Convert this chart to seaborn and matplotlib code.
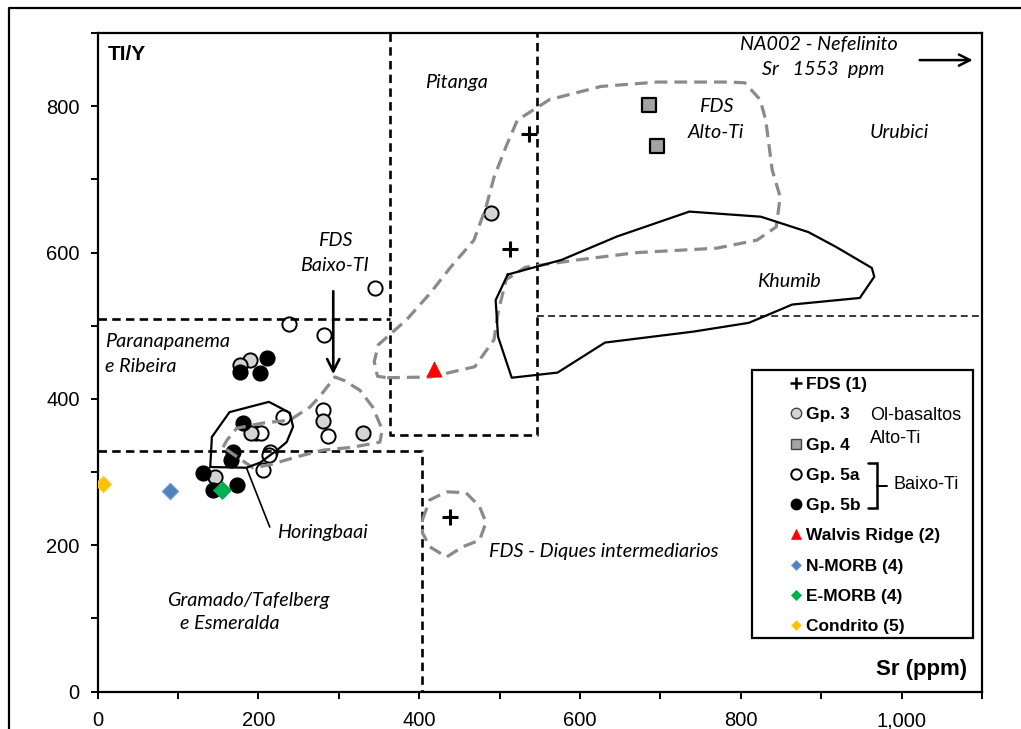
import numpy as np
import matplotlib
matplotlib.use("Agg")
import matplotlib.pyplot as plt
import seaborn as sns
from matplotlib.lines import Line2D
from matplotlib.patches import Rectangle
from matplotlib.ticker import MultipleLocator, FuncFormatter

# ---------------- data (Sr ppm, Ti/Y) ----------------
fds_sr = [537, 513, 438]
fds_tiy = [762, 605, 239]
gp3_sr = [489, 189, 177, 280, 330, 191, 146]
gp3_tiy = [654, 453, 447, 370, 353, 353, 294]
gp4_sr = [686, 696]
gp4_tiy = [801, 746]
gp5a_sr = [345, 238, 281, 231, 280, 286, 197, 203, 214, 213, 206]
gp5a_tiy = [552, 502, 487, 376, 385, 349, 354, 354, 328, 324, 303]
gp5b_sr = [210, 177, 202, 181, 168, 166, 131, 144, 173]
gp5b_tiy = [456, 437, 435, 367, 328, 317, 299, 276, 283]
walvis_sr, walvis_tiy = [418], [441]
nmorb_sr, nmorb_tiy = [90], [274]
emorb_sr, emorb_tiy = [154], [276]
condrito_sr, condrito_tiy = [6], [284]

# fields (outlines)
alto_ti_sr = [360, 414, 469, 493, 498, 508, 532, 597, 671, 770, 820, 844, 849, 839, 831, 824,
              805, 785, 696, 626, 562, 522, 508, 493, 483, 468, 439, 414, 384, 349, 344, 348]
alto_ti_tiy = [429, 430, 444, 481, 518, 563, 580, 590, 600, 606, 617, 635, 676, 713, 781, 809,
               832, 833, 833, 827, 809, 781, 745, 703, 662, 617, 580, 545, 508, 474, 451, 431]
baixo_ti_sr = [156, 161, 173, 205, 239, 264, 276, 295, 307, 326, 342, 354, 351, 317, 280, 248, 214, 193]
baixo_ti_tiy = [334, 344, 360, 367, 371, 389, 403, 430, 425, 412, 389, 358, 341, 334, 330, 321, 310, 306]
horingbaai_sr = [140, 142, 164, 213, 239, 243, 235, 223, 202, 185]
horingbaai_tiy = [307, 348, 382, 396, 381, 362, 341, 330, 313, 306]
khumib_sr = [510, 577, 646, 736, 825, 884, 918, 963, 966, 948, 864, 810, 741, 631, 572, 515, 498, 495]
khumib_tiy = [570, 590, 622, 656, 649, 628, 608, 579, 567, 538, 529, 504, 492, 477, 436, 429, 485, 535]
diques_sr = [404, 413, 434, 458, 475, 483, 475, 454, 434, 413, 404]
diques_tiy = [235, 262, 273, 272, 253, 231, 207, 198, 184, 198, 217]

# region boundaries
pitanga_sr = [364, 364, 547, 547]
pitanga_tiy = [900, 351, 351, 900]
paranapanema_sr = [0, 364]
paranapanema_tiy = [509, 509]
urubici_sr = [547, 1100]
urubici_tiy = [513, 513]
gramado_sr = [0, 404, 404]
gramado_tiy = [329, 329, 0]

# ---------------- style ----------------
sns.set_theme(style="white")
plt.rcParams['font.family'] = ['Liberation Sans', 'DejaVu Sans']
plt.rcParams['text.color'] = 'black'
plt.rcParams['xtick.color'] = 'black'
plt.rcParams['ytick.color'] = 'black'
plt.rcParams['axes.labelcolor'] = 'black'

fig = plt.figure(figsize=(10.21, 7.29), dpi=100)
ax = fig.add_axes([0.0957, 0.0512, 0.8661, 0.9035])
ax.set_xlim(0, 1100)
ax.set_ylim(0, 900)

for sp in ax.spines.values():
    sp.set_linewidth(1.6)
    sp.set_color('black')

ax.xaxis.set_major_locator(MultipleLocator(200))
ax.xaxis.set_minor_locator(MultipleLocator(100))
ax.yaxis.set_major_locator(MultipleLocator(200))
ax.yaxis.set_minor_locator(MultipleLocator(100))
ax.xaxis.set_major_formatter(FuncFormatter(lambda v, p: f"{v:,.0f}"))
ax.tick_params(which='both', direction='out', length=5, width=1.4, color='black',
               bottom=True, left=True, top=False, right=False)
ax.tick_params(axis='x', which='major', labelsize=14.5, pad=9, labelcolor='black')
ax.tick_params(axis='y', which='major', labelsize=14.5, pad=8, labelcolor='black')

GRAY_FIELD = '#8a8a8a'

def closed(a):
    return list(a) + [a[0]]

# region boundaries (black dashed)
for xs, ys in [(pitanga_sr, pitanga_tiy), (paranapanema_sr, paranapanema_tiy), (gramado_sr, gramado_tiy)]:
    ax.plot(xs, ys, color='black', lw=1.9, ls=(0, (3.2, 2.0)), zorder=5)
ax.plot(urubici_sr, urubici_tiy, color='black', lw=1.1, ls=(0, (4.5, 2.8)), zorder=5)

# fields
ax.plot(closed(alto_ti_sr), closed(alto_ti_tiy), color=GRAY_FIELD, lw=2.3, ls=(0, (4, 2.2)), zorder=5)
ax.plot(closed(baixo_ti_sr), closed(baixo_ti_tiy), color=GRAY_FIELD, lw=2.3, ls=(0, (4, 2.2)), zorder=5)
ax.plot(closed(diques_sr), closed(diques_tiy), color=GRAY_FIELD, lw=2.3, ls=(0, (4, 2.2)), zorder=5)
ax.plot(closed(horingbaai_sr), closed(horingbaai_tiy), color='black', lw=1.6, zorder=5)
ax.plot(closed(khumib_sr), closed(khumib_tiy), color='black', lw=1.6, zorder=5)

# points
sns.scatterplot(x=gp5a_sr, y=gp5a_tiy, ax=ax, marker='o', s=105, color='white', edgecolor='black', linewidth=1.4, zorder=4, legend=False)
sns.scatterplot(x=gp3_sr, y=gp3_tiy, ax=ax, marker='o', s=105, color='#d4d4d4', edgecolor='black', linewidth=1.4, zorder=4, legend=False)
sns.scatterplot(x=gp5b_sr, y=gp5b_tiy, ax=ax, marker='o', s=105, color='black', edgecolor='black', linewidth=1.4, zorder=4, legend=False)
sns.scatterplot(x=gp4_sr, y=gp4_tiy, ax=ax, marker='s', s=115, color='#a3a3a3', edgecolor='black', linewidth=1.6, zorder=4, legend=False)
sns.scatterplot(x=fds_sr, y=fds_tiy, ax=ax, marker='+', s=130, color='black', linewidth=2.2, zorder=6, legend=False)
sns.scatterplot(x=walvis_sr, y=walvis_tiy, ax=ax, marker='^', s=120, color='#ff0000', edgecolor='#ff0000', linewidth=0.5, zorder=6, legend=False)
sns.scatterplot(x=nmorb_sr, y=nmorb_tiy, ax=ax, marker='D', s=70, color='#4f81bd', edgecolor='#7a9fd0', linewidth=0.8, zorder=6, legend=False)
sns.scatterplot(x=emorb_sr, y=emorb_tiy, ax=ax, marker='D', s=85, color='#00b050', edgecolor='#00b050', linewidth=0.5, zorder=6, legend=False)
sns.scatterplot(x=condrito_sr, y=condrito_tiy, ax=ax, marker='D', s=70, color='#ffc000', edgecolor='#ffd050', linewidth=0.8, zorder=6, legend=False)

# annotations
it = dict(family=['Lato', 'DejaVu Sans'], style='italic', fontsize=14.2, color='black', zorder=7)
ax.text(446, 833, 'Pitanga', ha='center', va='center', **it)
ax.text(769, 799, 'FDS', ha='center', va='center', **it)
ax.text(769, 764, 'Alto-Ti', ha='center', va='center', **it)
ax.text(897, 884, 'NA002 - Nefelinito', ha='center', va='center', **it)
ax.text(903, 850, 'Sr   1553  ppm', ha='center', va='center', **it)
ax.text(997, 764, 'Urubici', ha='center', va='center', **it)
ax.text(295, 617, 'FDS', ha='center', va='center', **it)
ax.text(295, 583, 'Baixo-TI', ha='center', va='center', **it)
ax.text(860, 560, 'Khumib', ha='center', va='center', **it)
ax.text(9, 478, 'Paranapanema', ha='left', va='center', **it)
ax.text(9, 444, 'e Ribeira', ha='left', va='center', **it)
ax.text(279, 217, 'Horingbaai', ha='center', va='center', **it)
ax.text(630, 192, 'FDS - Diques intermediarios', ha='center', va='center', **it)
ax.text(187, 125, 'Gramado/Tafelberg', ha='center', va='center', **it)
ax.text(164, 93, 'e Esmeralda', ha='center', va='center', **it)

ax.text(13, 870, 'TI/Y', ha='left', va='center', fontsize=15, fontweight='bold', zorder=7)
ax.text(1081, 30, 'Sr (ppm)', ha='right', va='center', fontsize=16, fontweight='bold', zorder=7)

ax.annotate('', xy=(1092, 863), xytext=(1019, 863),
            arrowprops=dict(arrowstyle='->', lw=1.8, color='black', mutation_scale=20), zorder=7)
ax.annotate('', xy=(293, 430), xytext=(293, 551),
            arrowprops=dict(arrowstyle='->', lw=1.9, color='black', mutation_scale=22), zorder=7)
ax.plot([185, 214], [306, 225], color='black', lw=1.2, zorder=5)

# legend
frame = Rectangle((0.740, 0.0815), 0.2499, 0.4069, transform=ax.transAxes,
                  facecolor='white', edgecolor='black', lw=1.6, zorder=8)
ax.add_patch(frame)
handles = [
    Line2D([], [], marker='+', ls='none', color='black', ms=8, mew=1.8, label='FDS (1)'),
    Line2D([], [], marker='o', ls='none', mfc='#d4d4d4', mec='#444444', ms=7.5, mew=1.0, label='Gp. 3'),
    Line2D([], [], marker='s', ls='none', mfc='#a3a3a3', mec='#444444', ms=7.5, mew=1.0, label='Gp. 4'),
    Line2D([], [], marker='o', ls='none', mfc='white', mec='black', ms=7.5, mew=1.4, label='Gp. 5a'),
    Line2D([], [], marker='o', ls='none', mfc='black', mec='black', ms=7.5, mew=1.0, label='Gp. 5b'),
    Line2D([], [], marker='^', ls='none', mfc='#ff0000', mec='#ff0000', ms=7, mew=0.5, label='Walvis Ridge (2)'),
    Line2D([], [], marker='D', ls='none', mfc='#4f81bd', mec='#7a9fd0', ms=5.5, mew=0.6, label='N-MORB (4)'),
    Line2D([], [], marker='D', ls='none', mfc='#00b050', mec='#00b050', ms=5.5, mew=0.6, label='E-MORB (4)'),
    Line2D([], [], marker='D', ls='none', mfc='#ffc000', mec='#ffd050', ms=5.5, mew=0.6, label='Condrito (5)'),
]
leg = ax.legend(handles=handles, loc='upper left', bbox_to_anchor=(0.773, 0.491),
                frameon=False, borderpad=0, handlelength=0.7, handletextpad=0.2,
                labelspacing=0.87, prop={'family': 'Liberation Sans', 'weight': 'bold', 'size': 12.5})
leg.set_zorder(9)

ax.text(0.8736, 0.420, 'Ol-basaltos', transform=ax.transAxes, ha='left', va='center', fontsize=13, zorder=9)
ax.text(0.8736, 0.385, 'Alto-Ti', transform=ax.transAxes, ha='left', va='center', fontsize=13, zorder=9)
ax.text(0.8994, 0.3153, 'Baixo-Ti', transform=ax.transAxes, ha='left', va='center', fontsize=13, zorder=9)
ax.plot([0.8709, 0.8811, 0.8811, 0.8709], [0.3472, 0.3472, 0.2789, 0.2789], transform=ax.transAxes,
        color='black', lw=1.8, zorder=9, solid_joinstyle='miter')
ax.plot([0.8811, 0.8924], [0.3123, 0.3123], transform=ax.transAxes, color='black', lw=1.4, zorder=9)

# outer frame of the figure (only left and top visible)
fig.add_artist(Line2D([9 / 1021, 9 / 1021, 1.0], [0.0, 1 - 8 / 729, 1 - 8 / 729],
                      transform=fig.transFigure, color='black', lw=1.6))

fig.savefig('out.png', dpi=100)
